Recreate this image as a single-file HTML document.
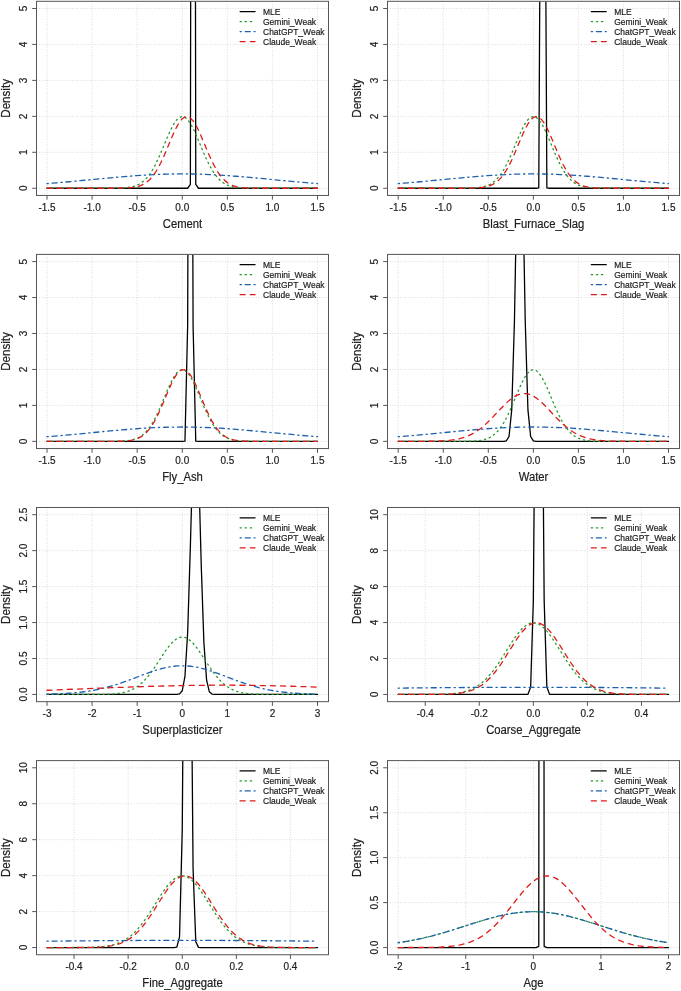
<!DOCTYPE html>
<html><head><meta charset="utf-8"><title>Prior densities</title>
<style>html,body{margin:0;padding:0;background:#fff;}body{width:681px;height:991px;overflow:hidden;font-family:"Liberation Sans", sans-serif;}svg{display:block;filter:blur(0.3px);}text{stroke:#202020;stroke-width:0.18;}</style>
</head><body><svg width="681" height="991" viewBox="0 0 681 991" font-family='&quot;Liberation Sans&quot;, sans-serif'><defs><clipPath id="c0"><rect x="36.5" y="1.3" width="292" height="194.15"/></clipPath><clipPath id="c1"><rect x="387.5" y="1.3" width="292" height="194.15"/></clipPath><clipPath id="c2"><rect x="36.5" y="254.4" width="292" height="194.15"/></clipPath><clipPath id="c3"><rect x="387.5" y="254.4" width="292" height="194.15"/></clipPath><clipPath id="c4"><rect x="36.5" y="507.5" width="292" height="194.15"/></clipPath><clipPath id="c5"><rect x="387.5" y="507.5" width="292" height="194.15"/></clipPath><clipPath id="c6"><rect x="36.5" y="760.6" width="292" height="194.15"/></clipPath><clipPath id="c7"><rect x="387.5" y="760.6" width="292" height="194.15"/></clipPath></defs><rect width="681" height="991" fill="#fff"/><g stroke="#c8c8c8" stroke-width="0.8" stroke-dasharray="0.8 1.75" fill="none"><line x1="47" y1="1.3" x2="47" y2="195.45"/><line x1="92.08" y1="1.3" x2="92.08" y2="195.45"/><line x1="137.17" y1="1.3" x2="137.17" y2="195.45"/><line x1="182.25" y1="1.3" x2="182.25" y2="195.45"/><line x1="227.33" y1="1.3" x2="227.33" y2="195.45"/><line x1="272.42" y1="1.3" x2="272.42" y2="195.45"/><line x1="317.5" y1="1.3" x2="317.5" y2="195.45"/><line x1="36.5" y1="188.25" x2="328.5" y2="188.25"/><line x1="36.5" y1="152.3" x2="328.5" y2="152.3"/><line x1="36.5" y1="116.35" x2="328.5" y2="116.35"/><line x1="36.5" y1="80.4" x2="328.5" y2="80.4"/><line x1="36.5" y1="44.45" x2="328.5" y2="44.45"/><line x1="36.5" y1="8.5" x2="328.5" y2="8.5"/></g><g clip-path="url(#c0)"><path d="M47.00 188.25 187.66 188.25 190.37 184.45 193.07 -1479.42 195.77 184.45 198.48 188.25 317.50 188.25" stroke="#000" stroke-width="1.3" fill="none" stroke-linecap="round" stroke-linejoin="round"/><path d="M47.00 188.25 106.51 188.24 114.62 188.19 120.04 188.06 122.74 187.94 125.44 187.75 128.15 187.45 130.86 187.01 133.56 186.38 136.26 185.47 138.97 184.22 141.68 182.54 144.38 180.34 147.09 177.54 149.79 174.06 152.50 169.87 155.20 164.97 157.90 159.42 160.61 153.35 166.02 140.42 168.73 134.12 171.43 128.35 174.13 123.45 176.84 119.70 179.54 117.34 182.25 116.54 184.96 117.34 187.66 119.70 190.37 123.45 193.07 128.35 195.77 134.12 198.48 140.42 203.89 153.35 206.59 159.42 209.30 164.97 212.00 169.87 214.71 174.06 217.41 177.54 220.12 180.34 222.83 182.54 225.53 184.22 228.23 185.47 230.94 186.38 233.64 187.01 236.35 187.45 239.05 187.75 241.76 187.94 244.47 188.06 249.88 188.19 257.99 188.24 317.50 188.25" stroke="#209a26" stroke-width="1.3" fill="none" stroke-linecap="round" stroke-dasharray="1.27 3.81"/><path d="M47.00 183.59 57.82 182.72 68.64 181.77 79.46 180.76 106.51 178.17 117.33 177.18 128.15 176.27 136.26 175.66 144.38 175.12 149.79 174.81 155.20 174.54 160.61 174.32 166.02 174.14 171.43 174.01 176.84 173.93 182.25 173.91 187.66 173.93 193.07 174.01 198.48 174.14 203.89 174.32 209.30 174.54 214.71 174.81 220.12 175.12 228.23 175.66 236.35 176.27 247.17 177.18 257.99 178.17 285.04 180.76 295.86 181.77 306.68 182.72 317.50 183.59" stroke="#1c60ae" stroke-width="1.3" fill="none" stroke-linecap="round" stroke-dasharray="1.27 3.81 5.08 3.81"/><path d="M47.00 188.25 111.92 188.24 120.04 188.17 125.44 188.03 128.15 187.89 130.86 187.66 133.56 187.33 136.26 186.83 138.97 186.11 141.68 185.10 144.38 183.72 147.09 181.87 149.79 179.48 152.50 176.46 155.20 172.74 157.90 168.31 160.61 163.19 163.31 157.45 166.02 151.23 171.43 138.28 174.13 132.12 176.84 126.61 179.54 122.05 182.25 118.75 184.96 116.90 187.66 116.63 190.37 117.96 193.07 120.80 195.77 124.97 198.48 130.20 201.18 136.18 206.59 149.09 209.30 155.42 212.00 161.34 214.71 166.68 217.41 171.34 220.12 175.30 222.83 178.55 225.53 181.14 228.23 183.16 230.94 184.68 233.64 185.81 236.35 186.62 239.05 187.18 241.76 187.57 244.47 187.82 247.17 187.99 249.88 188.09 252.58 188.16 260.70 188.23 317.50 188.25" stroke="#dd1a1a" stroke-width="1.3" fill="none" stroke-linecap="round" stroke-dasharray="5.08 5.08"/></g><g stroke="#555555" stroke-width="1" fill="none"><rect x="36.5" y="1.3" width="292" height="194.15"/><line x1="47" y1="195.45" x2="47" y2="199.65"/><line x1="92.08" y1="195.45" x2="92.08" y2="199.65"/><line x1="137.17" y1="195.45" x2="137.17" y2="199.65"/><line x1="182.25" y1="195.45" x2="182.25" y2="199.65"/><line x1="227.33" y1="195.45" x2="227.33" y2="199.65"/><line x1="272.42" y1="195.45" x2="272.42" y2="199.65"/><line x1="317.5" y1="195.45" x2="317.5" y2="199.65"/><line x1="32.2" y1="188.25" x2="36.5" y2="188.25"/><line x1="32.2" y1="152.3" x2="36.5" y2="152.3"/><line x1="32.2" y1="116.35" x2="36.5" y2="116.35"/><line x1="32.2" y1="80.4" x2="36.5" y2="80.4"/><line x1="32.2" y1="44.45" x2="36.5" y2="44.45"/><line x1="32.2" y1="8.5" x2="36.5" y2="8.5"/></g><g font-size="10" fill="#202020"><text transform="translate(47 210.95) scale(1 1.07)" text-anchor="middle">-1.5</text><text transform="translate(92.08 210.95) scale(1 1.07)" text-anchor="middle">-1.0</text><text transform="translate(137.17 210.95) scale(1 1.07)" text-anchor="middle">-0.5</text><text transform="translate(182.25 210.95) scale(1 1.07)" text-anchor="middle">0.0</text><text transform="translate(227.33 210.95) scale(1 1.07)" text-anchor="middle">0.5</text><text transform="translate(272.42 210.95) scale(1 1.07)" text-anchor="middle">1.0</text><text transform="translate(317.5 210.95) scale(1 1.07)" text-anchor="middle">1.5</text><text transform="translate(26.9 188.25) rotate(-90) scale(1 1.07)" text-anchor="middle">0</text><text transform="translate(26.9 152.3) rotate(-90) scale(1 1.07)" text-anchor="middle">1</text><text transform="translate(26.9 116.35) rotate(-90) scale(1 1.07)" text-anchor="middle">2</text><text transform="translate(26.9 80.4) rotate(-90) scale(1 1.07)" text-anchor="middle">3</text><text transform="translate(26.9 44.45) rotate(-90) scale(1 1.07)" text-anchor="middle">4</text><text transform="translate(26.9 8.5) rotate(-90) scale(1 1.07)" text-anchor="middle">5</text></g><g fill="#202020"><text font-size="11.3" transform="translate(182.5 227.85) scale(1 1.065)" text-anchor="middle">Cement</text><text font-size="11.6" transform="translate(9.9 98.38) rotate(-90) scale(1 1.035)" text-anchor="middle">Density</text></g><g font-size="8.5" fill="#202020"><line x1="240.1" y1="11.6" x2="255.05" y2="11.6" stroke="#000" stroke-width="1.3" stroke-linecap="round"/><text transform="translate(263 14.9) scale(1 1.08)">MLE</text><line x1="240.1" y1="21.6" x2="255.05" y2="21.6" stroke="#209a26" stroke-width="1.3" stroke-linecap="round" stroke-dasharray="1.27 3.81"/><text transform="translate(263 24.9) scale(1 1.08)">Gemini_Weak</text><line x1="240.1" y1="31.6" x2="255.05" y2="31.6" stroke="#1c60ae" stroke-width="1.3" stroke-linecap="round" stroke-dasharray="1.27 3.81 5.08 3.81"/><text transform="translate(263 34.9) scale(1 1.08)">ChatGPT_Weak</text><line x1="240.1" y1="41.6" x2="255.05" y2="41.6" stroke="#dd1a1a" stroke-width="1.3" stroke-linecap="round" stroke-dasharray="5.08 5.08"/><text transform="translate(263 44.9) scale(1 1.08)">Claude_Weak</text></g><g stroke="#c8c8c8" stroke-width="0.8" stroke-dasharray="0.8 1.75" fill="none"><line x1="398.2" y1="1.3" x2="398.2" y2="195.45"/><line x1="443.25" y1="1.3" x2="443.25" y2="195.45"/><line x1="488.3" y1="1.3" x2="488.3" y2="195.45"/><line x1="533.35" y1="1.3" x2="533.35" y2="195.45"/><line x1="578.4" y1="1.3" x2="578.4" y2="195.45"/><line x1="623.45" y1="1.3" x2="623.45" y2="195.45"/><line x1="668.5" y1="1.3" x2="668.5" y2="195.45"/><line x1="387.5" y1="188.25" x2="679.5" y2="188.25"/><line x1="387.5" y1="152.3" x2="679.5" y2="152.3"/><line x1="387.5" y1="116.35" x2="679.5" y2="116.35"/><line x1="387.5" y1="80.4" x2="679.5" y2="80.4"/><line x1="387.5" y1="44.45" x2="679.5" y2="44.45"/><line x1="387.5" y1="8.5" x2="679.5" y2="8.5"/></g><g clip-path="url(#c1)"><path d="M398.20 188.25 536.05 188.25 538.76 187.95 541.46 -326.30 544.16 -326.30 546.87 187.95 549.57 188.25 668.50 188.25" stroke="#000" stroke-width="1.3" fill="none" stroke-linecap="round" stroke-linejoin="round"/><path d="M398.20 188.25 457.67 188.24 465.77 188.19 471.18 188.06 473.88 187.94 476.59 187.75 479.29 187.45 481.99 187.01 484.70 186.38 487.40 185.47 490.10 184.22 492.81 182.54 495.51 180.34 498.21 177.54 500.91 174.06 503.62 169.87 506.32 164.97 509.02 159.42 511.73 153.35 517.13 140.42 519.84 134.12 522.54 128.35 525.24 123.45 527.94 119.70 530.65 117.34 533.35 116.54 536.05 117.34 538.76 119.70 541.46 123.45 544.16 128.35 546.87 134.12 549.57 140.42 554.97 153.35 557.68 159.42 560.38 164.97 563.08 169.87 565.79 174.06 568.49 177.54 571.19 180.34 573.89 182.54 576.60 184.22 579.30 185.47 582.00 186.38 584.71 187.01 587.41 187.45 590.11 187.75 592.82 187.94 595.52 188.06 600.92 188.19 609.03 188.24 668.50 188.25" stroke="#209a26" stroke-width="1.3" fill="none" stroke-linecap="round" stroke-dasharray="1.27 3.81"/><path d="M398.20 183.59 409.01 182.72 419.82 181.77 430.64 180.76 457.67 178.17 468.48 177.18 479.29 176.27 487.40 175.66 495.51 175.12 500.91 174.81 506.32 174.54 511.73 174.32 517.13 174.14 522.54 174.01 527.94 173.93 533.35 173.91 538.76 173.93 544.16 174.01 549.57 174.14 554.97 174.32 560.38 174.54 565.79 174.81 571.19 175.12 579.30 175.66 587.41 176.27 598.22 177.18 609.03 178.17 636.06 180.76 646.88 181.77 657.69 182.72 668.50 183.59" stroke="#1c60ae" stroke-width="1.3" fill="none" stroke-linecap="round" stroke-dasharray="1.27 3.81 5.08 3.81"/><path d="M398.20 188.25 460.37 188.24 468.48 188.19 473.88 188.07 476.59 187.96 479.29 187.77 481.99 187.49 484.70 187.07 487.40 186.45 490.10 185.58 492.81 184.37 495.51 182.73 498.21 180.59 500.91 177.85 503.62 174.44 506.32 170.32 509.02 165.49 511.73 160.00 514.43 153.97 517.13 147.58 519.84 141.07 522.54 134.73 525.24 128.90 527.94 123.89 530.65 120.01 533.35 117.51 536.05 116.55 538.76 117.19 541.46 119.39 544.16 123.01 546.87 127.82 549.57 133.51 552.27 139.78 557.68 152.72 560.38 158.83 563.08 164.44 565.79 169.41 568.49 173.67 571.19 177.22 573.89 180.09 576.60 182.35 579.30 184.08 582.00 185.37 584.71 186.30 587.41 186.96 590.11 187.42 592.82 187.72 595.52 187.92 598.22 188.05 603.63 188.18 611.74 188.24 668.50 188.25" stroke="#dd1a1a" stroke-width="1.3" fill="none" stroke-linecap="round" stroke-dasharray="5.08 5.08"/></g><g stroke="#555555" stroke-width="1" fill="none"><rect x="387.5" y="1.3" width="292" height="194.15"/><line x1="398.2" y1="195.45" x2="398.2" y2="199.65"/><line x1="443.25" y1="195.45" x2="443.25" y2="199.65"/><line x1="488.3" y1="195.45" x2="488.3" y2="199.65"/><line x1="533.35" y1="195.45" x2="533.35" y2="199.65"/><line x1="578.4" y1="195.45" x2="578.4" y2="199.65"/><line x1="623.45" y1="195.45" x2="623.45" y2="199.65"/><line x1="668.5" y1="195.45" x2="668.5" y2="199.65"/><line x1="383.2" y1="188.25" x2="387.5" y2="188.25"/><line x1="383.2" y1="152.3" x2="387.5" y2="152.3"/><line x1="383.2" y1="116.35" x2="387.5" y2="116.35"/><line x1="383.2" y1="80.4" x2="387.5" y2="80.4"/><line x1="383.2" y1="44.45" x2="387.5" y2="44.45"/><line x1="383.2" y1="8.5" x2="387.5" y2="8.5"/></g><g font-size="10" fill="#202020"><text transform="translate(398.2 210.95) scale(1 1.07)" text-anchor="middle">-1.5</text><text transform="translate(443.25 210.95) scale(1 1.07)" text-anchor="middle">-1.0</text><text transform="translate(488.3 210.95) scale(1 1.07)" text-anchor="middle">-0.5</text><text transform="translate(533.35 210.95) scale(1 1.07)" text-anchor="middle">0.0</text><text transform="translate(578.4 210.95) scale(1 1.07)" text-anchor="middle">0.5</text><text transform="translate(623.45 210.95) scale(1 1.07)" text-anchor="middle">1.0</text><text transform="translate(668.5 210.95) scale(1 1.07)" text-anchor="middle">1.5</text><text transform="translate(377.9 188.25) rotate(-90) scale(1 1.07)" text-anchor="middle">0</text><text transform="translate(377.9 152.3) rotate(-90) scale(1 1.07)" text-anchor="middle">1</text><text transform="translate(377.9 116.35) rotate(-90) scale(1 1.07)" text-anchor="middle">2</text><text transform="translate(377.9 80.4) rotate(-90) scale(1 1.07)" text-anchor="middle">3</text><text transform="translate(377.9 44.45) rotate(-90) scale(1 1.07)" text-anchor="middle">4</text><text transform="translate(377.9 8.5) rotate(-90) scale(1 1.07)" text-anchor="middle">5</text></g><g fill="#202020"><text font-size="11.3" transform="translate(533.5 227.85) scale(1 1.065)" text-anchor="middle">Blast_Furnace_Slag</text><text font-size="11.6" transform="translate(360.9 98.38) rotate(-90) scale(1 1.035)" text-anchor="middle">Density</text></g><g font-size="8.5" fill="#202020"><line x1="591.3" y1="11.6" x2="606.25" y2="11.6" stroke="#000" stroke-width="1.3" stroke-linecap="round"/><text transform="translate(614.2 14.9) scale(1 1.08)">MLE</text><line x1="591.3" y1="21.6" x2="606.25" y2="21.6" stroke="#209a26" stroke-width="1.3" stroke-linecap="round" stroke-dasharray="1.27 3.81"/><text transform="translate(614.2 24.9) scale(1 1.08)">Gemini_Weak</text><line x1="591.3" y1="31.6" x2="606.25" y2="31.6" stroke="#1c60ae" stroke-width="1.3" stroke-linecap="round" stroke-dasharray="1.27 3.81 5.08 3.81"/><text transform="translate(614.2 34.9) scale(1 1.08)">ChatGPT_Weak</text><line x1="591.3" y1="41.6" x2="606.25" y2="41.6" stroke="#dd1a1a" stroke-width="1.3" stroke-linecap="round" stroke-dasharray="5.08 5.08"/><text transform="translate(614.2 44.9) scale(1 1.08)">Claude_Weak</text></g><g stroke="#c8c8c8" stroke-width="0.8" stroke-dasharray="0.8 1.75" fill="none"><line x1="47" y1="254.4" x2="47" y2="448.55"/><line x1="92.08" y1="254.4" x2="92.08" y2="448.55"/><line x1="137.17" y1="254.4" x2="137.17" y2="448.55"/><line x1="182.25" y1="254.4" x2="182.25" y2="448.55"/><line x1="227.33" y1="254.4" x2="227.33" y2="448.55"/><line x1="272.42" y1="254.4" x2="272.42" y2="448.55"/><line x1="317.5" y1="254.4" x2="317.5" y2="448.55"/><line x1="36.5" y1="441.35" x2="328.5" y2="441.35"/><line x1="36.5" y1="405.4" x2="328.5" y2="405.4"/><line x1="36.5" y1="369.45" x2="328.5" y2="369.45"/><line x1="36.5" y1="333.5" x2="328.5" y2="333.5"/><line x1="36.5" y1="297.55" x2="328.5" y2="297.55"/><line x1="36.5" y1="261.6" x2="328.5" y2="261.6"/></g><g clip-path="url(#c2)"><path d="M47.00 441.35 182.25 441.35 184.96 441.16 187.66 325.01 190.37 -547.75 193.07 325.01 195.77 441.16 198.48 441.35 317.50 441.35" stroke="#000" stroke-width="1.3" fill="none" stroke-linecap="round" stroke-linejoin="round"/><path d="M47.00 441.35 106.51 441.34 114.62 441.29 120.04 441.16 122.74 441.04 125.44 440.85 128.15 440.55 130.86 440.11 133.56 439.48 136.26 438.57 138.97 437.32 141.68 435.64 144.38 433.44 147.09 430.64 149.79 427.16 152.50 422.97 155.20 418.07 157.90 412.52 160.61 406.45 166.02 393.52 168.73 387.22 171.43 381.45 174.13 376.55 176.84 372.80 179.54 370.44 182.25 369.64 184.96 370.44 187.66 372.80 190.37 376.55 193.07 381.45 195.77 387.22 198.48 393.52 203.89 406.45 206.59 412.52 209.30 418.07 212.00 422.97 214.71 427.16 217.41 430.64 220.12 433.44 222.83 435.64 225.53 437.32 228.23 438.57 230.94 439.48 233.64 440.11 236.35 440.55 239.05 440.85 241.76 441.04 244.47 441.16 249.88 441.29 257.99 441.34 317.50 441.35" stroke="#209a26" stroke-width="1.3" fill="none" stroke-linecap="round" stroke-dasharray="1.27 3.81"/><path d="M47.00 436.69 57.82 435.82 68.64 434.87 79.46 433.86 106.51 431.27 117.33 430.28 128.15 429.37 136.26 428.76 144.38 428.22 149.79 427.91 155.20 427.64 160.61 427.42 166.02 427.24 171.43 427.11 176.84 427.03 182.25 427.01 187.66 427.03 193.07 427.11 198.48 427.24 203.89 427.42 209.30 427.64 214.71 427.91 220.12 428.22 228.23 428.76 236.35 429.37 247.17 430.28 257.99 431.27 285.04 433.86 295.86 434.87 306.68 435.82 317.50 436.69" stroke="#1c60ae" stroke-width="1.3" fill="none" stroke-linecap="round" stroke-dasharray="1.27 3.81 5.08 3.81"/><path d="M47.00 441.35 109.22 441.33 117.33 441.26 122.74 441.10 125.44 440.93 128.15 440.69 130.86 440.31 133.56 439.76 136.26 438.97 138.97 437.87 141.68 436.37 144.38 434.39 147.09 431.84 149.79 428.63 152.50 424.73 155.20 420.11 157.90 414.81 160.61 408.93 163.31 402.62 168.73 389.70 171.43 383.67 174.13 378.39 176.84 374.14 179.54 371.20 182.25 369.77 184.96 369.93 187.66 371.68 190.37 374.89 193.07 379.37 195.77 384.83 198.48 390.96 203.89 403.91 206.59 410.14 209.30 415.92 212.00 421.09 214.71 425.57 217.41 429.33 220.12 432.40 222.83 434.83 225.53 436.71 228.23 438.12 230.94 439.15 233.64 439.89 236.35 440.40 239.05 440.74 241.76 440.97 244.47 441.12 249.88 441.27 257.99 441.34 317.50 441.35" stroke="#dd1a1a" stroke-width="1.3" fill="none" stroke-linecap="round" stroke-dasharray="5.08 5.08"/></g><g stroke="#555555" stroke-width="1" fill="none"><rect x="36.5" y="254.4" width="292" height="194.15"/><line x1="47" y1="448.55" x2="47" y2="452.75"/><line x1="92.08" y1="448.55" x2="92.08" y2="452.75"/><line x1="137.17" y1="448.55" x2="137.17" y2="452.75"/><line x1="182.25" y1="448.55" x2="182.25" y2="452.75"/><line x1="227.33" y1="448.55" x2="227.33" y2="452.75"/><line x1="272.42" y1="448.55" x2="272.42" y2="452.75"/><line x1="317.5" y1="448.55" x2="317.5" y2="452.75"/><line x1="32.2" y1="441.35" x2="36.5" y2="441.35"/><line x1="32.2" y1="405.4" x2="36.5" y2="405.4"/><line x1="32.2" y1="369.45" x2="36.5" y2="369.45"/><line x1="32.2" y1="333.5" x2="36.5" y2="333.5"/><line x1="32.2" y1="297.55" x2="36.5" y2="297.55"/><line x1="32.2" y1="261.6" x2="36.5" y2="261.6"/></g><g font-size="10" fill="#202020"><text transform="translate(47 464.05) scale(1 1.07)" text-anchor="middle">-1.5</text><text transform="translate(92.08 464.05) scale(1 1.07)" text-anchor="middle">-1.0</text><text transform="translate(137.17 464.05) scale(1 1.07)" text-anchor="middle">-0.5</text><text transform="translate(182.25 464.05) scale(1 1.07)" text-anchor="middle">0.0</text><text transform="translate(227.33 464.05) scale(1 1.07)" text-anchor="middle">0.5</text><text transform="translate(272.42 464.05) scale(1 1.07)" text-anchor="middle">1.0</text><text transform="translate(317.5 464.05) scale(1 1.07)" text-anchor="middle">1.5</text><text transform="translate(26.9 441.35) rotate(-90) scale(1 1.07)" text-anchor="middle">0</text><text transform="translate(26.9 405.4) rotate(-90) scale(1 1.07)" text-anchor="middle">1</text><text transform="translate(26.9 369.45) rotate(-90) scale(1 1.07)" text-anchor="middle">2</text><text transform="translate(26.9 333.5) rotate(-90) scale(1 1.07)" text-anchor="middle">3</text><text transform="translate(26.9 297.55) rotate(-90) scale(1 1.07)" text-anchor="middle">4</text><text transform="translate(26.9 261.6) rotate(-90) scale(1 1.07)" text-anchor="middle">5</text></g><g fill="#202020"><text font-size="11.3" transform="translate(182.5 480.95) scale(1 1.065)" text-anchor="middle">Fly_Ash</text><text font-size="11.6" transform="translate(9.9 351.47) rotate(-90) scale(1 1.035)" text-anchor="middle">Density</text></g><g font-size="8.5" fill="#202020"><line x1="240.1" y1="264.7" x2="255.05" y2="264.7" stroke="#000" stroke-width="1.3" stroke-linecap="round"/><text transform="translate(263 268) scale(1 1.08)">MLE</text><line x1="240.1" y1="274.7" x2="255.05" y2="274.7" stroke="#209a26" stroke-width="1.3" stroke-linecap="round" stroke-dasharray="1.27 3.81"/><text transform="translate(263 278) scale(1 1.08)">Gemini_Weak</text><line x1="240.1" y1="284.7" x2="255.05" y2="284.7" stroke="#1c60ae" stroke-width="1.3" stroke-linecap="round" stroke-dasharray="1.27 3.81 5.08 3.81"/><text transform="translate(263 288) scale(1 1.08)">ChatGPT_Weak</text><line x1="240.1" y1="294.7" x2="255.05" y2="294.7" stroke="#dd1a1a" stroke-width="1.3" stroke-linecap="round" stroke-dasharray="5.08 5.08"/><text transform="translate(263 298) scale(1 1.08)">Claude_Weak</text></g><g stroke="#c8c8c8" stroke-width="0.8" stroke-dasharray="0.8 1.75" fill="none"><line x1="398.2" y1="254.4" x2="398.2" y2="448.55"/><line x1="443.25" y1="254.4" x2="443.25" y2="448.55"/><line x1="488.3" y1="254.4" x2="488.3" y2="448.55"/><line x1="533.35" y1="254.4" x2="533.35" y2="448.55"/><line x1="578.4" y1="254.4" x2="578.4" y2="448.55"/><line x1="623.45" y1="254.4" x2="623.45" y2="448.55"/><line x1="668.5" y1="254.4" x2="668.5" y2="448.55"/><line x1="387.5" y1="441.35" x2="679.5" y2="441.35"/><line x1="387.5" y1="405.4" x2="679.5" y2="405.4"/><line x1="387.5" y1="369.45" x2="679.5" y2="369.45"/><line x1="387.5" y1="333.5" x2="679.5" y2="333.5"/><line x1="387.5" y1="297.55" x2="679.5" y2="297.55"/><line x1="387.5" y1="261.6" x2="679.5" y2="261.6"/></g><g clip-path="url(#c3)"><path d="M398.20 441.35 498.21 441.35 503.62 441.33 506.32 440.92 509.02 436.52 511.73 409.91 514.43 321.46 517.13 173.70 519.84 91.55 522.54 173.70 525.24 321.46 527.94 409.91 530.65 436.52 533.35 440.92 536.05 441.33 541.46 441.35 668.50 441.35" stroke="#000" stroke-width="1.3" fill="none" stroke-linecap="round" stroke-linejoin="round"/><path d="M398.20 441.35 457.67 441.34 465.77 441.29 471.18 441.16 473.88 441.04 476.59 440.85 479.29 440.55 481.99 440.11 484.70 439.48 487.40 438.57 490.10 437.32 492.81 435.64 495.51 433.44 498.21 430.64 500.91 427.16 503.62 422.97 506.32 418.07 509.02 412.52 511.73 406.45 517.13 393.52 519.84 387.22 522.54 381.45 525.24 376.55 527.94 372.80 530.65 370.44 533.35 369.64 536.05 370.44 538.76 372.80 541.46 376.55 544.16 381.45 546.87 387.22 549.57 393.52 554.97 406.45 557.68 412.52 560.38 418.07 563.08 422.97 565.79 427.16 568.49 430.64 571.19 433.44 573.89 435.64 576.60 437.32 579.30 438.57 582.00 439.48 584.71 440.11 587.41 440.55 590.11 440.85 592.82 441.04 595.52 441.16 600.92 441.29 609.03 441.34 668.50 441.35" stroke="#209a26" stroke-width="1.3" fill="none" stroke-linecap="round" stroke-dasharray="1.27 3.81"/><path d="M398.20 436.69 409.01 435.82 419.82 434.87 430.64 433.86 457.67 431.27 468.48 430.28 479.29 429.37 487.40 428.76 495.51 428.22 500.91 427.91 506.32 427.64 511.73 427.42 517.13 427.24 522.54 427.11 527.94 427.03 533.35 427.01 538.76 427.03 544.16 427.11 549.57 427.24 554.97 427.42 560.38 427.64 565.79 427.91 571.19 428.22 579.30 428.76 587.41 429.37 598.22 430.28 609.03 431.27 636.06 433.86 646.88 434.87 657.69 435.82 668.50 436.69" stroke="#1c60ae" stroke-width="1.3" fill="none" stroke-linecap="round" stroke-dasharray="1.27 3.81 5.08 3.81"/><path d="M398.20 441.35 417.12 441.33 427.93 441.27 436.04 441.12 441.45 440.92 444.15 440.76 446.85 440.56 449.56 440.31 452.26 439.98 454.96 439.58 457.67 439.07 460.37 438.44 463.07 437.69 465.77 436.78 468.48 435.70 471.18 434.44 473.88 432.98 476.59 431.31 479.29 429.43 481.99 427.34 484.70 425.04 487.40 422.56 490.10 419.92 492.81 417.14 500.91 408.51 503.62 405.72 506.32 403.07 509.02 400.63 511.73 398.48 514.43 396.65 517.13 395.21 519.84 394.20 522.54 393.65 525.24 393.57 527.94 393.97 530.65 394.83 533.35 396.13 536.05 397.83 538.76 399.88 541.46 402.23 544.16 404.81 546.87 407.57 554.97 416.20 557.68 419.00 560.38 421.70 563.08 424.24 565.79 426.59 568.49 428.76 571.19 430.71 573.89 432.45 576.60 433.97 579.30 435.30 582.00 436.44 584.71 437.40 587.41 438.21 590.11 438.87 592.82 439.42 595.52 439.86 598.22 440.21 600.92 440.49 603.63 440.70 609.03 441.00 611.74 441.09 617.14 441.22 625.25 441.31 638.77 441.34 668.50 441.35" stroke="#dd1a1a" stroke-width="1.3" fill="none" stroke-linecap="round" stroke-dasharray="5.08 5.08"/></g><g stroke="#555555" stroke-width="1" fill="none"><rect x="387.5" y="254.4" width="292" height="194.15"/><line x1="398.2" y1="448.55" x2="398.2" y2="452.75"/><line x1="443.25" y1="448.55" x2="443.25" y2="452.75"/><line x1="488.3" y1="448.55" x2="488.3" y2="452.75"/><line x1="533.35" y1="448.55" x2="533.35" y2="452.75"/><line x1="578.4" y1="448.55" x2="578.4" y2="452.75"/><line x1="623.45" y1="448.55" x2="623.45" y2="452.75"/><line x1="668.5" y1="448.55" x2="668.5" y2="452.75"/><line x1="383.2" y1="441.35" x2="387.5" y2="441.35"/><line x1="383.2" y1="405.4" x2="387.5" y2="405.4"/><line x1="383.2" y1="369.45" x2="387.5" y2="369.45"/><line x1="383.2" y1="333.5" x2="387.5" y2="333.5"/><line x1="383.2" y1="297.55" x2="387.5" y2="297.55"/><line x1="383.2" y1="261.6" x2="387.5" y2="261.6"/></g><g font-size="10" fill="#202020"><text transform="translate(398.2 464.05) scale(1 1.07)" text-anchor="middle">-1.5</text><text transform="translate(443.25 464.05) scale(1 1.07)" text-anchor="middle">-1.0</text><text transform="translate(488.3 464.05) scale(1 1.07)" text-anchor="middle">-0.5</text><text transform="translate(533.35 464.05) scale(1 1.07)" text-anchor="middle">0.0</text><text transform="translate(578.4 464.05) scale(1 1.07)" text-anchor="middle">0.5</text><text transform="translate(623.45 464.05) scale(1 1.07)" text-anchor="middle">1.0</text><text transform="translate(668.5 464.05) scale(1 1.07)" text-anchor="middle">1.5</text><text transform="translate(377.9 441.35) rotate(-90) scale(1 1.07)" text-anchor="middle">0</text><text transform="translate(377.9 405.4) rotate(-90) scale(1 1.07)" text-anchor="middle">1</text><text transform="translate(377.9 369.45) rotate(-90) scale(1 1.07)" text-anchor="middle">2</text><text transform="translate(377.9 333.5) rotate(-90) scale(1 1.07)" text-anchor="middle">3</text><text transform="translate(377.9 297.55) rotate(-90) scale(1 1.07)" text-anchor="middle">4</text><text transform="translate(377.9 261.6) rotate(-90) scale(1 1.07)" text-anchor="middle">5</text></g><g fill="#202020"><text font-size="11.3" transform="translate(533.5 480.95) scale(1 1.065)" text-anchor="middle">Water</text><text font-size="11.6" transform="translate(360.9 351.47) rotate(-90) scale(1 1.035)" text-anchor="middle">Density</text></g><g font-size="8.5" fill="#202020"><line x1="591.3" y1="264.7" x2="606.25" y2="264.7" stroke="#000" stroke-width="1.3" stroke-linecap="round"/><text transform="translate(614.2 268) scale(1 1.08)">MLE</text><line x1="591.3" y1="274.7" x2="606.25" y2="274.7" stroke="#209a26" stroke-width="1.3" stroke-linecap="round" stroke-dasharray="1.27 3.81"/><text transform="translate(614.2 278) scale(1 1.08)">Gemini_Weak</text><line x1="591.3" y1="284.7" x2="606.25" y2="284.7" stroke="#1c60ae" stroke-width="1.3" stroke-linecap="round" stroke-dasharray="1.27 3.81 5.08 3.81"/><text transform="translate(614.2 288) scale(1 1.08)">ChatGPT_Weak</text><line x1="591.3" y1="294.7" x2="606.25" y2="294.7" stroke="#dd1a1a" stroke-width="1.3" stroke-linecap="round" stroke-dasharray="5.08 5.08"/><text transform="translate(614.2 298) scale(1 1.08)">Claude_Weak</text></g><g stroke="#c8c8c8" stroke-width="0.8" stroke-dasharray="0.8 1.75" fill="none"><line x1="47" y1="507.5" x2="47" y2="701.65"/><line x1="92.08" y1="507.5" x2="92.08" y2="701.65"/><line x1="137.17" y1="507.5" x2="137.17" y2="701.65"/><line x1="182.25" y1="507.5" x2="182.25" y2="701.65"/><line x1="227.33" y1="507.5" x2="227.33" y2="701.65"/><line x1="272.42" y1="507.5" x2="272.42" y2="701.65"/><line x1="317.5" y1="507.5" x2="317.5" y2="701.65"/><line x1="36.5" y1="694.45" x2="328.5" y2="694.45"/><line x1="36.5" y1="658.5" x2="328.5" y2="658.5"/><line x1="36.5" y1="622.55" x2="328.5" y2="622.55"/><line x1="36.5" y1="586.6" x2="328.5" y2="586.6"/><line x1="36.5" y1="550.65" x2="328.5" y2="550.65"/><line x1="36.5" y1="514.7" x2="328.5" y2="514.7"/></g><g clip-path="url(#c4)"><path d="M47.00 694.45 171.43 694.45 174.13 694.45 176.84 694.40 179.54 693.92 182.25 690.75 184.96 676.32 187.66 632.42 190.37 546.38 193.07 447.87 195.77 407.97 198.48 462.23 201.18 563.13 203.89 642.64 206.59 680.19 209.30 691.71 212.00 694.08 214.71 694.42 220.12 694.45 317.50 694.45" stroke="#000" stroke-width="1.3" fill="none" stroke-linecap="round" stroke-linejoin="round"/><path d="M47.00 694.45 92.99 694.43 101.10 694.36 106.51 694.25 109.22 694.15 111.92 694.01 114.62 693.81 117.33 693.54 120.04 693.18 122.74 692.69 125.44 692.05 128.15 691.23 130.86 690.19 133.56 688.88 136.26 687.29 138.97 685.37 141.68 683.10 144.38 680.46 147.09 677.46 149.79 674.11 152.50 670.44 155.20 666.53 163.31 654.14 166.02 650.18 168.73 646.53 171.43 643.32 174.13 640.68 176.84 638.71 179.54 637.49 182.25 637.08 184.96 637.49 187.66 638.71 190.37 640.68 193.07 643.32 195.77 646.53 198.48 650.18 201.18 654.14 209.30 666.53 212.00 670.44 214.71 674.11 217.41 677.46 220.12 680.46 222.83 683.10 225.53 685.37 228.23 687.29 230.94 688.88 233.64 690.19 236.35 691.23 239.05 692.05 241.76 692.69 244.47 693.18 247.17 693.54 249.88 693.81 252.58 694.01 255.28 694.15 257.99 694.25 263.40 694.36 271.51 694.43 317.50 694.45" stroke="#209a26" stroke-width="1.3" fill="none" stroke-linecap="round" stroke-dasharray="1.27 3.81"/><path d="M47.00 694.13 55.12 693.91 63.23 693.57 68.64 693.25 71.34 693.06 76.76 692.59 82.17 692.01 87.57 691.29 90.28 690.87 92.99 690.41 95.69 689.91 98.39 689.36 101.10 688.77 103.81 688.14 106.51 687.46 109.22 686.73 111.92 685.95 117.33 684.28 122.74 682.45 128.15 680.49 144.38 674.29 149.79 672.32 152.50 671.38 155.20 670.49 157.90 669.66 160.61 668.89 163.31 668.19 166.02 667.57 168.73 667.03 171.43 666.58 174.13 666.23 176.84 665.97 179.54 665.82 182.25 665.77 184.96 665.82 187.66 665.97 190.37 666.23 193.07 666.58 195.77 667.03 198.48 667.57 201.18 668.19 203.89 668.89 206.59 669.66 209.30 670.49 212.00 671.38 214.71 672.32 220.12 674.29 236.35 680.49 241.76 682.45 247.17 684.28 252.58 685.95 255.28 686.73 257.99 687.46 260.70 688.14 263.40 688.77 266.11 689.36 268.81 689.91 271.51 690.41 274.22 690.87 276.92 691.29 282.34 692.01 287.75 692.59 293.15 693.06 295.86 693.25 301.27 693.57 309.39 693.91 317.50 694.13" stroke="#1c60ae" stroke-width="1.3" fill="none" stroke-linecap="round" stroke-dasharray="1.27 3.81 5.08 3.81"/><path d="M47.00 690.26 111.92 687.70 128.15 687.09 141.68 686.63 157.90 686.14 171.43 685.80 184.96 685.53 198.48 685.34 212.00 685.22 225.53 685.20 239.05 685.26 255.28 685.44 268.81 685.68 285.04 686.07 301.27 686.55 317.50 687.09" stroke="#dd1a1a" stroke-width="1.3" fill="none" stroke-linecap="round" stroke-dasharray="5.08 5.08"/></g><g stroke="#555555" stroke-width="1" fill="none"><rect x="36.5" y="507.5" width="292" height="194.15"/><line x1="47" y1="701.65" x2="47" y2="705.85"/><line x1="92.08" y1="701.65" x2="92.08" y2="705.85"/><line x1="137.17" y1="701.65" x2="137.17" y2="705.85"/><line x1="182.25" y1="701.65" x2="182.25" y2="705.85"/><line x1="227.33" y1="701.65" x2="227.33" y2="705.85"/><line x1="272.42" y1="701.65" x2="272.42" y2="705.85"/><line x1="317.5" y1="701.65" x2="317.5" y2="705.85"/><line x1="32.2" y1="694.45" x2="36.5" y2="694.45"/><line x1="32.2" y1="658.5" x2="36.5" y2="658.5"/><line x1="32.2" y1="622.55" x2="36.5" y2="622.55"/><line x1="32.2" y1="586.6" x2="36.5" y2="586.6"/><line x1="32.2" y1="550.65" x2="36.5" y2="550.65"/><line x1="32.2" y1="514.7" x2="36.5" y2="514.7"/></g><g font-size="10" fill="#202020"><text transform="translate(47 717.15) scale(1 1.07)" text-anchor="middle">-3</text><text transform="translate(92.08 717.15) scale(1 1.07)" text-anchor="middle">-2</text><text transform="translate(137.17 717.15) scale(1 1.07)" text-anchor="middle">-1</text><text transform="translate(182.25 717.15) scale(1 1.07)" text-anchor="middle">0</text><text transform="translate(227.33 717.15) scale(1 1.07)" text-anchor="middle">1</text><text transform="translate(272.42 717.15) scale(1 1.07)" text-anchor="middle">2</text><text transform="translate(317.5 717.15) scale(1 1.07)" text-anchor="middle">3</text><text transform="translate(26.9 694.45) rotate(-90) scale(1 1.07)" text-anchor="middle">0.0</text><text transform="translate(26.9 658.5) rotate(-90) scale(1 1.07)" text-anchor="middle">0.5</text><text transform="translate(26.9 622.55) rotate(-90) scale(1 1.07)" text-anchor="middle">1.0</text><text transform="translate(26.9 586.6) rotate(-90) scale(1 1.07)" text-anchor="middle">1.5</text><text transform="translate(26.9 550.65) rotate(-90) scale(1 1.07)" text-anchor="middle">2.0</text><text transform="translate(26.9 514.7) rotate(-90) scale(1 1.07)" text-anchor="middle">2.5</text></g><g fill="#202020"><text font-size="11.3" transform="translate(182.5 734.05) scale(1 1.065)" text-anchor="middle">Superplasticizer</text><text font-size="11.6" transform="translate(9.9 604.58) rotate(-90) scale(1 1.035)" text-anchor="middle">Density</text></g><g font-size="8.5" fill="#202020"><line x1="240.1" y1="517.8" x2="255.05" y2="517.8" stroke="#000" stroke-width="1.3" stroke-linecap="round"/><text transform="translate(263 521.1) scale(1 1.08)">MLE</text><line x1="240.1" y1="527.8" x2="255.05" y2="527.8" stroke="#209a26" stroke-width="1.3" stroke-linecap="round" stroke-dasharray="1.27 3.81"/><text transform="translate(263 531.1) scale(1 1.08)">Gemini_Weak</text><line x1="240.1" y1="537.8" x2="255.05" y2="537.8" stroke="#1c60ae" stroke-width="1.3" stroke-linecap="round" stroke-dasharray="1.27 3.81 5.08 3.81"/><text transform="translate(263 541.1) scale(1 1.08)">ChatGPT_Weak</text><line x1="240.1" y1="547.8" x2="255.05" y2="547.8" stroke="#dd1a1a" stroke-width="1.3" stroke-linecap="round" stroke-dasharray="5.08 5.08"/><text transform="translate(263 551.1) scale(1 1.08)">Claude_Weak</text></g><g stroke="#c8c8c8" stroke-width="0.8" stroke-dasharray="0.8 1.75" fill="none"><line x1="425.23" y1="507.5" x2="425.23" y2="701.65"/><line x1="479.29" y1="507.5" x2="479.29" y2="701.65"/><line x1="533.35" y1="507.5" x2="533.35" y2="701.65"/><line x1="587.41" y1="507.5" x2="587.41" y2="701.65"/><line x1="641.47" y1="507.5" x2="641.47" y2="701.65"/><line x1="387.5" y1="694.45" x2="679.5" y2="694.45"/><line x1="387.5" y1="658.5" x2="679.5" y2="658.5"/><line x1="387.5" y1="622.55" x2="679.5" y2="622.55"/><line x1="387.5" y1="586.6" x2="679.5" y2="586.6"/><line x1="387.5" y1="550.65" x2="679.5" y2="550.65"/><line x1="387.5" y1="514.7" x2="679.5" y2="514.7"/></g><g clip-path="url(#c5)"><path d="M398.20 694.45 525.24 694.45 527.94 694.24 530.65 687.11 533.35 600.32 536.05 259.55 538.76 -29.89 541.46 259.55 544.16 600.32 546.87 687.11 549.57 694.24 552.27 694.45 668.50 694.45" stroke="#000" stroke-width="1.3" fill="none" stroke-linecap="round" stroke-linejoin="round"/><path d="M398.20 694.45 422.53 694.43 436.04 694.34 441.45 694.23 444.15 694.14 449.56 693.86 452.26 693.65 454.96 693.38 457.67 693.03 460.37 692.58 463.07 692.01 465.77 691.30 468.48 690.42 471.18 689.36 473.88 688.07 476.59 686.54 479.29 684.75 481.99 682.66 484.70 680.26 487.40 677.54 490.10 674.51 492.81 671.17 495.51 667.54 498.21 663.65 500.91 659.55 503.62 655.29 509.02 646.62 511.73 642.38 514.43 638.32 517.13 634.55 519.84 631.17 522.54 628.25 525.24 625.90 527.94 624.16 530.65 623.10 533.35 622.74 536.05 623.10 538.76 624.16 541.46 625.90 544.16 628.25 546.87 631.17 549.57 634.55 552.27 638.32 554.97 642.38 557.68 646.62 563.08 655.29 565.79 659.55 568.49 663.65 571.19 667.54 573.89 671.17 576.60 674.51 579.30 677.54 582.00 680.26 584.71 682.66 587.41 684.75 590.11 686.54 592.82 688.07 595.52 689.36 598.22 690.42 600.92 691.30 603.63 692.01 606.33 692.58 609.03 693.03 611.74 693.38 614.44 693.65 617.14 693.86 622.55 694.14 625.25 694.23 630.66 694.34 644.17 694.43 668.50 694.45" stroke="#209a26" stroke-width="1.3" fill="none" stroke-linecap="round" stroke-dasharray="1.27 3.81"/><path d="M398.20 688.12 433.34 687.75 468.48 687.48 500.91 687.33 533.35 687.28 565.79 687.33 598.22 687.48 633.36 687.75 668.50 688.12" stroke="#1c60ae" stroke-width="1.3" fill="none" stroke-linecap="round" stroke-dasharray="1.27 3.81 5.08 3.81"/><path d="M398.20 694.45 425.23 694.43 438.75 694.34 444.15 694.24 446.85 694.15 452.26 693.88 454.96 693.68 457.67 693.41 460.37 693.07 463.07 692.63 465.77 692.07 468.48 691.38 471.18 690.52 473.88 689.47 476.59 688.21 479.29 686.71 481.99 684.94 484.70 682.88 487.40 680.51 490.10 677.83 492.81 674.83 495.51 671.52 498.21 667.91 500.91 664.05 503.62 659.96 506.32 655.72 511.73 647.05 514.43 642.80 517.13 638.72 519.84 634.91 522.54 631.49 525.24 628.52 527.94 626.10 530.65 624.30 533.35 623.17 536.05 622.74 538.76 623.03 541.46 624.02 544.16 625.69 546.87 627.99 549.57 630.85 552.27 634.20 554.97 637.93 557.68 641.96 560.38 646.19 565.79 654.86 568.49 659.13 571.19 663.24 573.89 667.16 576.60 670.82 579.30 674.19 582.00 677.26 584.71 680.00 587.41 682.43 590.11 684.55 592.82 686.38 595.52 687.93 598.22 689.24 600.92 690.33 603.63 691.22 606.33 691.94 609.03 692.53 611.74 692.99 614.44 693.35 617.14 693.63 619.85 693.84 622.55 694.01 625.25 694.13 627.95 694.22 633.36 694.34 644.17 694.42 668.50 694.45" stroke="#dd1a1a" stroke-width="1.3" fill="none" stroke-linecap="round" stroke-dasharray="5.08 5.08"/></g><g stroke="#555555" stroke-width="1" fill="none"><rect x="387.5" y="507.5" width="292" height="194.15"/><line x1="425.23" y1="701.65" x2="425.23" y2="705.85"/><line x1="479.29" y1="701.65" x2="479.29" y2="705.85"/><line x1="533.35" y1="701.65" x2="533.35" y2="705.85"/><line x1="587.41" y1="701.65" x2="587.41" y2="705.85"/><line x1="641.47" y1="701.65" x2="641.47" y2="705.85"/><line x1="383.2" y1="694.45" x2="387.5" y2="694.45"/><line x1="383.2" y1="658.5" x2="387.5" y2="658.5"/><line x1="383.2" y1="622.55" x2="387.5" y2="622.55"/><line x1="383.2" y1="586.6" x2="387.5" y2="586.6"/><line x1="383.2" y1="550.65" x2="387.5" y2="550.65"/><line x1="383.2" y1="514.7" x2="387.5" y2="514.7"/></g><g font-size="10" fill="#202020"><text transform="translate(425.23 717.15) scale(1 1.07)" text-anchor="middle">-0.4</text><text transform="translate(479.29 717.15) scale(1 1.07)" text-anchor="middle">-0.2</text><text transform="translate(533.35 717.15) scale(1 1.07)" text-anchor="middle">0.0</text><text transform="translate(587.41 717.15) scale(1 1.07)" text-anchor="middle">0.2</text><text transform="translate(641.47 717.15) scale(1 1.07)" text-anchor="middle">0.4</text><text transform="translate(377.9 694.45) rotate(-90) scale(1 1.07)" text-anchor="middle">0</text><text transform="translate(377.9 658.5) rotate(-90) scale(1 1.07)" text-anchor="middle">2</text><text transform="translate(377.9 622.55) rotate(-90) scale(1 1.07)" text-anchor="middle">4</text><text transform="translate(377.9 586.6) rotate(-90) scale(1 1.07)" text-anchor="middle">6</text><text transform="translate(377.9 550.65) rotate(-90) scale(1 1.07)" text-anchor="middle">8</text><text transform="translate(377.9 514.7) rotate(-90) scale(1 1.07)" text-anchor="middle">10</text></g><g fill="#202020"><text font-size="11.3" transform="translate(533.5 734.05) scale(1 1.065)" text-anchor="middle">Coarse_Aggregate</text><text font-size="11.6" transform="translate(360.9 604.58) rotate(-90) scale(1 1.035)" text-anchor="middle">Density</text></g><g font-size="8.5" fill="#202020"><line x1="591.3" y1="517.8" x2="606.25" y2="517.8" stroke="#000" stroke-width="1.3" stroke-linecap="round"/><text transform="translate(614.2 521.1) scale(1 1.08)">MLE</text><line x1="591.3" y1="527.8" x2="606.25" y2="527.8" stroke="#209a26" stroke-width="1.3" stroke-linecap="round" stroke-dasharray="1.27 3.81"/><text transform="translate(614.2 531.1) scale(1 1.08)">Gemini_Weak</text><line x1="591.3" y1="537.8" x2="606.25" y2="537.8" stroke="#1c60ae" stroke-width="1.3" stroke-linecap="round" stroke-dasharray="1.27 3.81 5.08 3.81"/><text transform="translate(614.2 541.1) scale(1 1.08)">ChatGPT_Weak</text><line x1="591.3" y1="547.8" x2="606.25" y2="547.8" stroke="#dd1a1a" stroke-width="1.3" stroke-linecap="round" stroke-dasharray="5.08 5.08"/><text transform="translate(614.2 551.1) scale(1 1.08)">Claude_Weak</text></g><g stroke="#c8c8c8" stroke-width="0.8" stroke-dasharray="0.8 1.75" fill="none"><line x1="74.05" y1="760.6" x2="74.05" y2="954.75"/><line x1="128.15" y1="760.6" x2="128.15" y2="954.75"/><line x1="182.25" y1="760.6" x2="182.25" y2="954.75"/><line x1="236.35" y1="760.6" x2="236.35" y2="954.75"/><line x1="290.45" y1="760.6" x2="290.45" y2="954.75"/><line x1="36.5" y1="947.55" x2="328.5" y2="947.55"/><line x1="36.5" y1="911.6" x2="328.5" y2="911.6"/><line x1="36.5" y1="875.65" x2="328.5" y2="875.65"/><line x1="36.5" y1="839.7" x2="328.5" y2="839.7"/><line x1="36.5" y1="803.75" x2="328.5" y2="803.75"/><line x1="36.5" y1="767.8" x2="328.5" y2="767.8"/></g><g clip-path="url(#c6)"><path d="M47.00 947.55 174.13 947.55 176.84 947.19 179.54 936.85 182.25 829.61 184.96 469.26 187.66 234.03 190.37 555.96 193.07 868.49 195.78 941.68 198.48 947.39 201.18 947.55 317.50 947.55" stroke="#000" stroke-width="1.3" fill="none" stroke-linecap="round" stroke-linejoin="round"/><path d="M47.00 947.55 71.34 947.53 84.87 947.44 90.28 947.33 92.99 947.24 98.40 946.96 101.10 946.75 103.80 946.48 106.51 946.13 109.22 945.68 111.92 945.11 114.62 944.40 117.33 943.52 120.04 942.46 122.74 941.17 125.44 939.64 128.15 937.85 130.86 935.76 133.56 933.36 136.26 930.64 138.97 927.61 141.68 924.27 144.38 920.64 147.08 916.75 149.79 912.65 152.50 908.39 157.90 899.72 160.61 895.48 163.31 891.42 166.02 887.65 168.73 884.27 171.43 881.35 174.13 879.00 176.84 877.26 179.54 876.20 182.25 875.84 184.96 876.20 187.66 877.26 190.37 879.00 193.07 881.35 195.78 884.27 198.48 887.65 201.18 891.42 203.89 895.48 206.59 899.72 212.00 908.39 214.71 912.65 217.41 916.75 220.12 920.64 222.83 924.27 225.53 927.61 228.24 930.64 230.94 933.36 233.64 935.76 236.35 937.85 239.05 939.64 241.76 941.17 244.47 942.46 247.17 943.52 249.88 944.40 252.58 945.11 255.28 945.68 257.99 946.13 260.70 946.48 263.40 946.75 266.11 946.96 271.51 947.24 274.22 947.33 279.63 947.44 293.15 947.53 317.50 947.55" stroke="#209a26" stroke-width="1.3" fill="none" stroke-linecap="round" stroke-dasharray="1.27 3.81"/><path d="M47.00 941.22 82.16 940.85 117.33 940.58 149.79 940.43 182.25 940.38 214.71 940.43 247.17 940.58 282.34 940.85 317.50 941.22" stroke="#1c60ae" stroke-width="1.3" fill="none" stroke-linecap="round" stroke-dasharray="1.27 3.81 5.08 3.81"/><path d="M47.00 947.55 74.05 947.53 87.58 947.44 92.99 947.33 95.69 947.24 101.10 946.96 103.80 946.75 106.51 946.48 109.22 946.13 111.92 945.68 114.62 945.11 117.33 944.40 120.04 943.52 122.74 942.46 125.44 941.17 128.15 939.64 130.86 937.85 133.56 935.76 136.26 933.36 138.97 930.64 141.68 927.61 144.38 924.27 147.08 920.64 149.79 916.75 152.50 912.65 155.20 908.39 160.61 899.72 163.31 895.48 166.02 891.42 168.73 887.65 171.43 884.27 174.13 881.35 176.84 879.00 179.54 877.26 182.25 876.20 184.96 875.84 187.66 876.20 190.37 877.26 193.07 879.00 195.78 881.35 198.48 884.27 201.18 887.65 203.89 891.42 206.59 895.48 209.30 899.72 214.71 908.39 217.41 912.65 220.12 916.75 222.83 920.64 225.53 924.27 228.24 927.61 230.94 930.64 233.64 933.36 236.35 935.76 239.05 937.85 241.76 939.64 244.47 941.17 247.17 942.46 249.88 943.52 252.58 944.40 255.28 945.11 257.99 945.68 260.70 946.13 263.40 946.48 266.11 946.75 268.81 946.96 274.22 947.24 276.92 947.33 282.34 947.44 293.15 947.53 317.50 947.55" stroke="#dd1a1a" stroke-width="1.3" fill="none" stroke-linecap="round" stroke-dasharray="5.08 5.08"/></g><g stroke="#555555" stroke-width="1" fill="none"><rect x="36.5" y="760.6" width="292" height="194.15"/><line x1="74.05" y1="954.75" x2="74.05" y2="958.95"/><line x1="128.15" y1="954.75" x2="128.15" y2="958.95"/><line x1="182.25" y1="954.75" x2="182.25" y2="958.95"/><line x1="236.35" y1="954.75" x2="236.35" y2="958.95"/><line x1="290.45" y1="954.75" x2="290.45" y2="958.95"/><line x1="32.2" y1="947.55" x2="36.5" y2="947.55"/><line x1="32.2" y1="911.6" x2="36.5" y2="911.6"/><line x1="32.2" y1="875.65" x2="36.5" y2="875.65"/><line x1="32.2" y1="839.7" x2="36.5" y2="839.7"/><line x1="32.2" y1="803.75" x2="36.5" y2="803.75"/><line x1="32.2" y1="767.8" x2="36.5" y2="767.8"/></g><g font-size="10" fill="#202020"><text transform="translate(74.05 970.25) scale(1 1.07)" text-anchor="middle">-0.4</text><text transform="translate(128.15 970.25) scale(1 1.07)" text-anchor="middle">-0.2</text><text transform="translate(182.25 970.25) scale(1 1.07)" text-anchor="middle">0.0</text><text transform="translate(236.35 970.25) scale(1 1.07)" text-anchor="middle">0.2</text><text transform="translate(290.45 970.25) scale(1 1.07)" text-anchor="middle">0.4</text><text transform="translate(26.9 947.55) rotate(-90) scale(1 1.07)" text-anchor="middle">0</text><text transform="translate(26.9 911.6) rotate(-90) scale(1 1.07)" text-anchor="middle">2</text><text transform="translate(26.9 875.65) rotate(-90) scale(1 1.07)" text-anchor="middle">4</text><text transform="translate(26.9 839.7) rotate(-90) scale(1 1.07)" text-anchor="middle">6</text><text transform="translate(26.9 803.75) rotate(-90) scale(1 1.07)" text-anchor="middle">8</text><text transform="translate(26.9 767.8) rotate(-90) scale(1 1.07)" text-anchor="middle">10</text></g><g fill="#202020"><text font-size="11.3" transform="translate(182.5 987.15) scale(1 1.065)" text-anchor="middle">Fine_Aggregate</text><text font-size="11.6" transform="translate(9.9 857.67) rotate(-90) scale(1 1.035)" text-anchor="middle">Density</text></g><g font-size="8.5" fill="#202020"><line x1="240.1" y1="770.9" x2="255.05" y2="770.9" stroke="#000" stroke-width="1.3" stroke-linecap="round"/><text transform="translate(263 774.2) scale(1 1.08)">MLE</text><line x1="240.1" y1="780.9" x2="255.05" y2="780.9" stroke="#209a26" stroke-width="1.3" stroke-linecap="round" stroke-dasharray="1.27 3.81"/><text transform="translate(263 784.2) scale(1 1.08)">Gemini_Weak</text><line x1="240.1" y1="790.9" x2="255.05" y2="790.9" stroke="#1c60ae" stroke-width="1.3" stroke-linecap="round" stroke-dasharray="1.27 3.81 5.08 3.81"/><text transform="translate(263 794.2) scale(1 1.08)">ChatGPT_Weak</text><line x1="240.1" y1="800.9" x2="255.05" y2="800.9" stroke="#dd1a1a" stroke-width="1.3" stroke-linecap="round" stroke-dasharray="5.08 5.08"/><text transform="translate(263 804.2) scale(1 1.08)">Claude_Weak</text></g><g stroke="#c8c8c8" stroke-width="0.8" stroke-dasharray="0.8 1.75" fill="none"><line x1="398.2" y1="760.6" x2="398.2" y2="954.75"/><line x1="465.77" y1="760.6" x2="465.77" y2="954.75"/><line x1="533.35" y1="760.6" x2="533.35" y2="954.75"/><line x1="600.92" y1="760.6" x2="600.92" y2="954.75"/><line x1="668.5" y1="760.6" x2="668.5" y2="954.75"/><line x1="387.5" y1="947.55" x2="679.5" y2="947.55"/><line x1="387.5" y1="902.61" x2="679.5" y2="902.61"/><line x1="387.5" y1="857.67" x2="679.5" y2="857.67"/><line x1="387.5" y1="812.74" x2="679.5" y2="812.74"/><line x1="387.5" y1="767.8" x2="679.5" y2="767.8"/></g><g clip-path="url(#c7)"><path d="M398.20 947.55 536.05 947.55 538.76 946.35 541.46 -2637.94 544.16 946.35 546.87 947.55 668.50 947.55" stroke="#000" stroke-width="1.3" fill="none" stroke-linecap="round" stroke-linejoin="round"/><path d="M398.20 942.70 403.61 941.87 409.01 940.95 414.42 939.93 417.12 939.38 419.82 938.81 425.23 937.58 427.93 936.93 433.34 935.56 436.04 934.84 441.45 933.33 449.56 930.93 457.67 928.40 476.59 922.35 484.70 919.88 490.10 918.34 492.81 917.60 498.21 916.23 500.91 915.60 503.62 915.00 506.32 914.45 509.02 913.94 511.73 913.48 514.43 913.07 517.13 912.71 519.84 912.41 522.54 912.15 525.24 911.95 527.94 911.81 530.65 911.72 533.35 911.70 536.05 911.72 538.76 911.81 541.46 911.95 544.16 912.15 546.87 912.41 549.57 912.71 552.27 913.07 554.97 913.48 557.68 913.94 560.38 914.45 563.08 915.00 565.79 915.60 568.49 916.23 573.89 917.60 576.60 918.34 582.00 919.88 590.11 922.35 609.03 928.40 617.14 930.93 625.25 933.33 630.66 934.84 633.36 935.56 638.77 936.93 641.47 937.58 646.88 938.81 649.58 939.38 652.28 939.93 657.69 940.95 663.09 941.87 668.50 942.70" stroke="#209a26" stroke-width="1.3" fill="none" stroke-linecap="round" stroke-dasharray="1.27 3.81"/><path d="M398.20 942.70 403.61 941.87 409.01 940.95 414.42 939.93 417.12 939.38 419.82 938.81 425.23 937.58 427.93 936.93 433.34 935.56 436.04 934.84 441.45 933.33 449.56 930.93 457.67 928.40 476.59 922.35 484.70 919.88 490.10 918.34 492.81 917.60 498.21 916.23 500.91 915.60 503.62 915.00 506.32 914.45 509.02 913.94 511.73 913.48 514.43 913.07 517.13 912.71 519.84 912.41 522.54 912.15 525.24 911.95 527.94 911.81 530.65 911.72 533.35 911.70 536.05 911.72 538.76 911.81 541.46 911.95 544.16 912.15 546.87 912.41 549.57 912.71 552.27 913.07 554.97 913.48 557.68 913.94 560.38 914.45 563.08 915.00 565.79 915.60 568.49 916.23 573.89 917.60 576.60 918.34 582.00 919.88 590.11 922.35 609.03 928.40 617.14 930.93 625.25 933.33 630.66 934.84 633.36 935.56 638.77 936.93 641.47 937.58 646.88 938.81 649.58 939.38 652.28 939.93 657.69 940.95 663.09 941.87 668.50 942.70" stroke="#1c60ae" stroke-width="1.3" fill="none" stroke-linecap="round" stroke-dasharray="1.27 3.81 5.08 3.81"/><path d="M398.20 947.55 417.12 947.50 425.23 947.44 430.64 947.36 436.04 947.22 441.45 947.00 446.85 946.65 449.56 946.42 452.26 946.13 454.96 945.78 457.67 945.35 460.37 944.84 463.07 944.24 465.77 943.52 468.48 942.69 471.18 941.72 473.88 940.59 476.59 939.31 479.29 937.85 481.99 936.20 484.70 934.36 487.40 932.31 490.10 930.06 492.81 927.61 495.51 924.96 498.21 922.12 500.91 919.11 503.62 915.94 506.32 912.65 509.02 909.25 517.13 898.86 519.84 895.48 522.54 892.21 525.24 889.12 527.94 886.25 530.65 883.64 533.35 881.35 536.05 879.42 538.76 877.88 541.46 876.75 544.16 876.07 546.87 875.84 549.57 876.07 552.27 876.75 554.97 877.88 557.68 879.42 560.38 881.35 563.08 883.64 565.79 886.25 568.49 889.12 571.19 892.21 573.89 895.48 576.60 898.86 584.71 909.25 587.41 912.65 590.11 915.94 592.82 919.11 595.52 922.12 598.22 924.96 600.92 927.61 603.63 930.06 606.33 932.31 609.03 934.36 611.74 936.20 614.44 937.85 617.14 939.31 619.85 940.59 622.55 941.72 625.25 942.69 627.95 943.52 630.66 944.24 633.36 944.84 636.06 945.35 638.77 945.78 641.47 946.13 644.17 946.42 646.88 946.65 649.58 946.84 652.28 947.00 657.69 947.22 663.09 947.36 668.50 947.44" stroke="#dd1a1a" stroke-width="1.3" fill="none" stroke-linecap="round" stroke-dasharray="5.08 5.08"/></g><g stroke="#555555" stroke-width="1" fill="none"><rect x="387.5" y="760.6" width="292" height="194.15"/><line x1="398.2" y1="954.75" x2="398.2" y2="958.95"/><line x1="465.77" y1="954.75" x2="465.77" y2="958.95"/><line x1="533.35" y1="954.75" x2="533.35" y2="958.95"/><line x1="600.92" y1="954.75" x2="600.92" y2="958.95"/><line x1="668.5" y1="954.75" x2="668.5" y2="958.95"/><line x1="383.2" y1="947.55" x2="387.5" y2="947.55"/><line x1="383.2" y1="902.61" x2="387.5" y2="902.61"/><line x1="383.2" y1="857.67" x2="387.5" y2="857.67"/><line x1="383.2" y1="812.74" x2="387.5" y2="812.74"/><line x1="383.2" y1="767.8" x2="387.5" y2="767.8"/></g><g font-size="10" fill="#202020"><text transform="translate(398.2 970.25) scale(1 1.07)" text-anchor="middle">-2</text><text transform="translate(465.77 970.25) scale(1 1.07)" text-anchor="middle">-1</text><text transform="translate(533.35 970.25) scale(1 1.07)" text-anchor="middle">0</text><text transform="translate(600.92 970.25) scale(1 1.07)" text-anchor="middle">1</text><text transform="translate(668.5 970.25) scale(1 1.07)" text-anchor="middle">2</text><text transform="translate(377.9 947.55) rotate(-90) scale(1 1.07)" text-anchor="middle">0.0</text><text transform="translate(377.9 902.61) rotate(-90) scale(1 1.07)" text-anchor="middle">0.5</text><text transform="translate(377.9 857.67) rotate(-90) scale(1 1.07)" text-anchor="middle">1.0</text><text transform="translate(377.9 812.74) rotate(-90) scale(1 1.07)" text-anchor="middle">1.5</text><text transform="translate(377.9 767.8) rotate(-90) scale(1 1.07)" text-anchor="middle">2.0</text></g><g fill="#202020"><text font-size="11.3" transform="translate(533.5 987.15) scale(1 1.065)" text-anchor="middle">Age</text><text font-size="11.6" transform="translate(360.9 857.67) rotate(-90) scale(1 1.035)" text-anchor="middle">Density</text></g><g font-size="8.5" fill="#202020"><line x1="591.3" y1="770.9" x2="606.25" y2="770.9" stroke="#000" stroke-width="1.3" stroke-linecap="round"/><text transform="translate(614.2 774.2) scale(1 1.08)">MLE</text><line x1="591.3" y1="780.9" x2="606.25" y2="780.9" stroke="#209a26" stroke-width="1.3" stroke-linecap="round" stroke-dasharray="1.27 3.81"/><text transform="translate(614.2 784.2) scale(1 1.08)">Gemini_Weak</text><line x1="591.3" y1="790.9" x2="606.25" y2="790.9" stroke="#1c60ae" stroke-width="1.3" stroke-linecap="round" stroke-dasharray="1.27 3.81 5.08 3.81"/><text transform="translate(614.2 794.2) scale(1 1.08)">ChatGPT_Weak</text><line x1="591.3" y1="800.9" x2="606.25" y2="800.9" stroke="#dd1a1a" stroke-width="1.3" stroke-linecap="round" stroke-dasharray="5.08 5.08"/><text transform="translate(614.2 804.2) scale(1 1.08)">Claude_Weak</text></g></svg></body></html>
